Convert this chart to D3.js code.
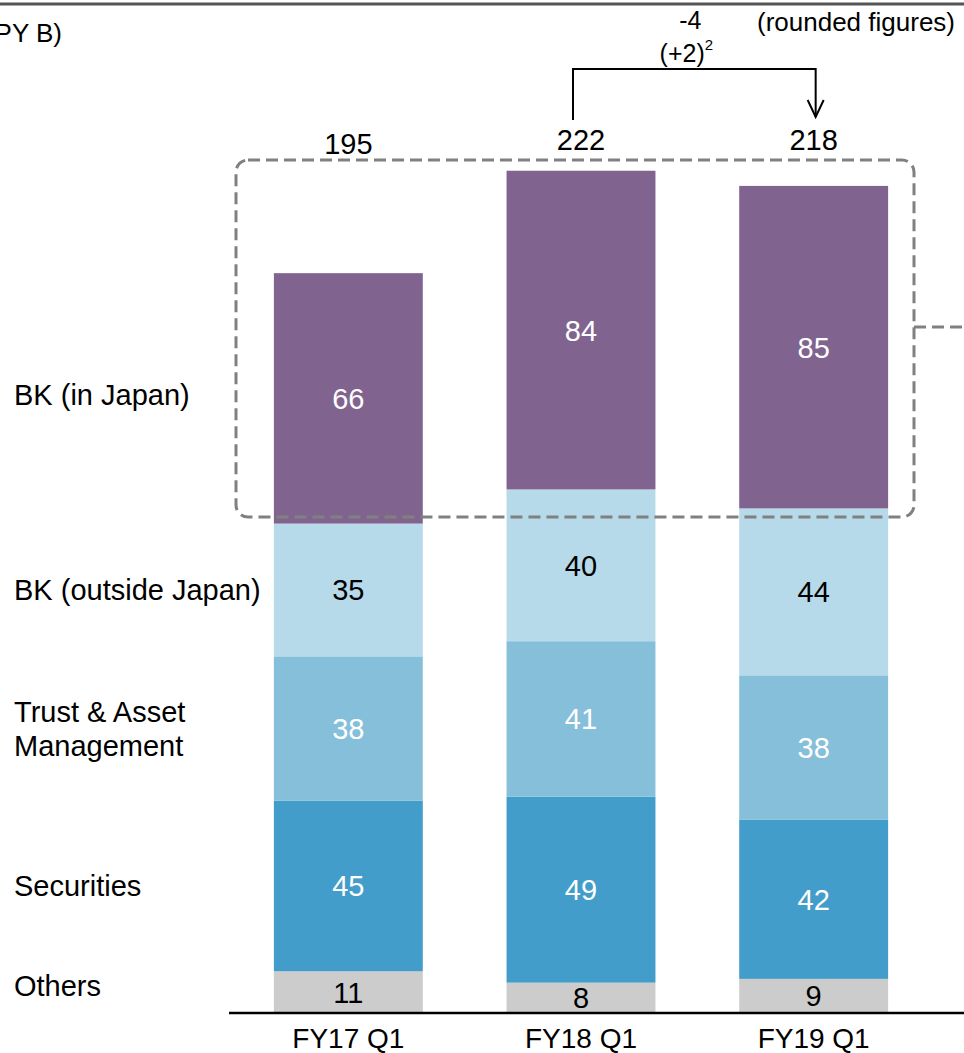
<!DOCTYPE html>
<html>
<head>
<meta charset="utf-8">
<script src="https://cdn.jsdelivr.net/npm/d3@7"></script>
<style>
  html, body { margin: 0; padding: 0; background: #fff; }
  svg { display: block; font-family: "Liberation Sans", Arial, sans-serif; }
</style>
</head>
<body>
<svg id="chart" width="964" height="1053"></svg>
<script>
// Periods on the x axis
const periods = ["FY17 Q1", "FY18 Q1", "FY19 Q1"];
// Segments, stacked from the bottom up
const segments = ["Others", "Securities", "Trust & Asset Management", "BK (outside Japan)", "BK (in Japan)"];
const others      = [11, 8, 9];
const securities  = [45, 49, 42];
const trustAsset  = [38, 41, 38];
const bkOutside   = [35, 40, 44];
const bkJapan     = [66, 84, 85];
const totals      = [195, 222, 218];
const rowLabels = [
  { seg: "BK (in Japan)", lines: ["BK (in Japan)"] },
  { seg: "BK (outside Japan)", lines: ["BK (outside Japan)"] },
  { seg: "Trust & Asset Management", lines: ["Trust & Asset", "Management"] },
  { seg: "Securities", lines: ["Securities"] },
  { seg: "Others", lines: ["Others"] }
];
const unitText = "(JPY B)";
const noteText = "(rounded figures)";
const changeText = "-4";
const changeSub = "(+2)";
const changeSup = "2";

const colors = {
  "Others": "#cccccc",
  "Securities": "#439dca",
  "Trust & Asset Management": "#86bfda",
  "BK (outside Japan)": "#b6dae9",
  "BK (in Japan)": "#80648f"
};
const labelColors = {
  "Others": "#000",
  "Securities": "#fff",
  "Trust & Asset Management": "#fff",
  "BK (outside Japan)": "#000",
  "BK (in Japan)": "#fff"
};

const table = periods.map((p, i) => ({
  period: p,
  "Others": others[i],
  "Securities": securities[i],
  "Trust & Asset Management": trustAsset[i],
  "BK (outside Japan)": bkOutside[i],
  "BK (in Japan)": bkJapan[i],
  total: totals[i]
}));

const svg = d3.select("#chart");
const baseY = 1013;

const y = d3.scaleLinear().domain([0, 267]).range([baseY, 0]);
const x = d3.scaleBand().domain(periods).range([232, 930])
  .paddingInner(0.36).paddingOuter(0.18);

const stack = d3.stack().keys(segments);
const series = stack(table);

// top rule
svg.append("line").attr("x1", 0).attr("x2", 964).attr("y1", 4).attr("y2", 4)
  .attr("stroke", "#555").attr("stroke-width", 3);

// unit label (runs off the left edge)
svg.append("text").attr("x", 62).attr("y", 42).attr("text-anchor", "end")
  .attr("font-size", 26).text(unitText);

svg.append("text").attr("x", 955).attr("y", 31).attr("text-anchor", "end")
  .attr("font-size", 26).text(noteText);

// stacked bars
const layers = svg.append("g").selectAll("g").data(series).join("g")
  .attr("fill", d => colors[d.key]);

layers.selectAll("rect").data(d => d.map(v => ({ v, key: d.key }))).join("rect")
  .attr("x", d => x(d.v.data.period))
  .attr("width", x.bandwidth())
  .attr("y", d => y(d.v[1]))
  .attr("height", d => y(d.v[0]) - y(d.v[1]));

// segment value labels
const valueLabels = svg.append("g").attr("font-size", 29).attr("text-anchor", "middle");
series.forEach(s => {
  s.forEach(v => {
    const val = v[1] - v[0];
    valueLabels.append("text")
      .attr("x", x(v.data.period) + x.bandwidth() / 2)
      .attr("y", (y(v[0]) + y(v[1])) / 2)
      .attr("dy", "0.36em")
      .attr("fill", labelColors[s.key])
      .text(val);
  });
});

// totals
svg.append("g").attr("font-size", 29).attr("text-anchor", "middle")
  .selectAll("text").data(table).join("text")
  .attr("x", d => x(d.period) + x.bandwidth() / 2)
  .attr("y", (d, i) => i === 0 ? 154 : 150)
  .text(d => d.total);

// axis baseline and category labels
const xAxis = svg.append("g").attr("transform", `translate(0,${baseY})`)
  .call(d3.axisBottom(x).tickSize(0).tickPadding(0));
xAxis.select(".domain").remove();
xAxis.selectAll("text").attr("font-size", 28).attr("fill", "#000")
  .attr("dy", null).attr("y", 35)
  .attr("font-family", "Liberation Sans, Arial, sans-serif");
svg.append("line").attr("x1", 229).attr("x2", 964).attr("y1", baseY).attr("y2", baseY)
  .attr("stroke", "#000").attr("stroke-width", 2.5);

// row labels on the left, aligned to the first bar's segments
const leftG = svg.append("g").attr("font-size", 29);
rowLabels.forEach(r => {
  const s = series.find(d => d.key === r.seg)[0];
  let cy = (y(s[0]) + y(s[1])) / 2;
  if (r.seg === "BK (in Japan)") cy = 395;
  if (r.seg === "Others") cy = 986;
  const n = r.lines.length;
  r.lines.forEach((ln, k) => {
    leftG.append("text").attr("x", 14)
      .attr("y", cy + (k - (n - 1) / 2) * 34)
      .attr("dy", "0.36em").text(ln);
  });
});

// dashed highlight box around the BK (in Japan) segments
svg.append("rect").attr("x", 236).attr("y", 160).attr("width", 678).attr("height", 357)
  .attr("rx", 12).attr("ry", 12)
  .attr("fill", "none").attr("stroke", "#808080").attr("stroke-width", 3)
  .attr("stroke-dasharray", "12,6");
svg.append("line").attr("x1", 914).attr("x2", 964).attr("y1", 327).attr("y2", 327)
  .attr("stroke", "#808080").attr("stroke-width", 3).attr("stroke-dasharray", "12,6");

// change bracket between FY18 Q1 and FY19 Q1
const bx1 = x(periods[1]) + x.bandwidth() / 2 - 8;
const bx2 = x(periods[2]) + x.bandwidth() / 2 + 2;
svg.append("path")
  .attr("d", `M${bx1},120 V69 H${bx2} V117`)
  .attr("fill", "none").attr("stroke", "#000").attr("stroke-width", 2);
svg.append("path")
  .attr("d", `M${bx2 - 8},100 L${bx2},117 L${bx2 + 8},100`)
  .attr("fill", "none").attr("stroke", "#000").attr("stroke-width", 2);

const mid = (bx1 + bx2) / 2;
svg.append("text").attr("x", mid - 4).attr("y", 29).attr("text-anchor", "middle")
  .attr("font-size", 25).text(changeText);
const sub = svg.append("text").attr("x", mid - 8).attr("y", 62).attr("text-anchor", "middle")
  .attr("font-size", 25);
sub.append("tspan").text(changeSub);
sub.append("tspan").attr("font-size", 15).attr("dy", -12).text(changeSup);
</script>
</body>
</html>
